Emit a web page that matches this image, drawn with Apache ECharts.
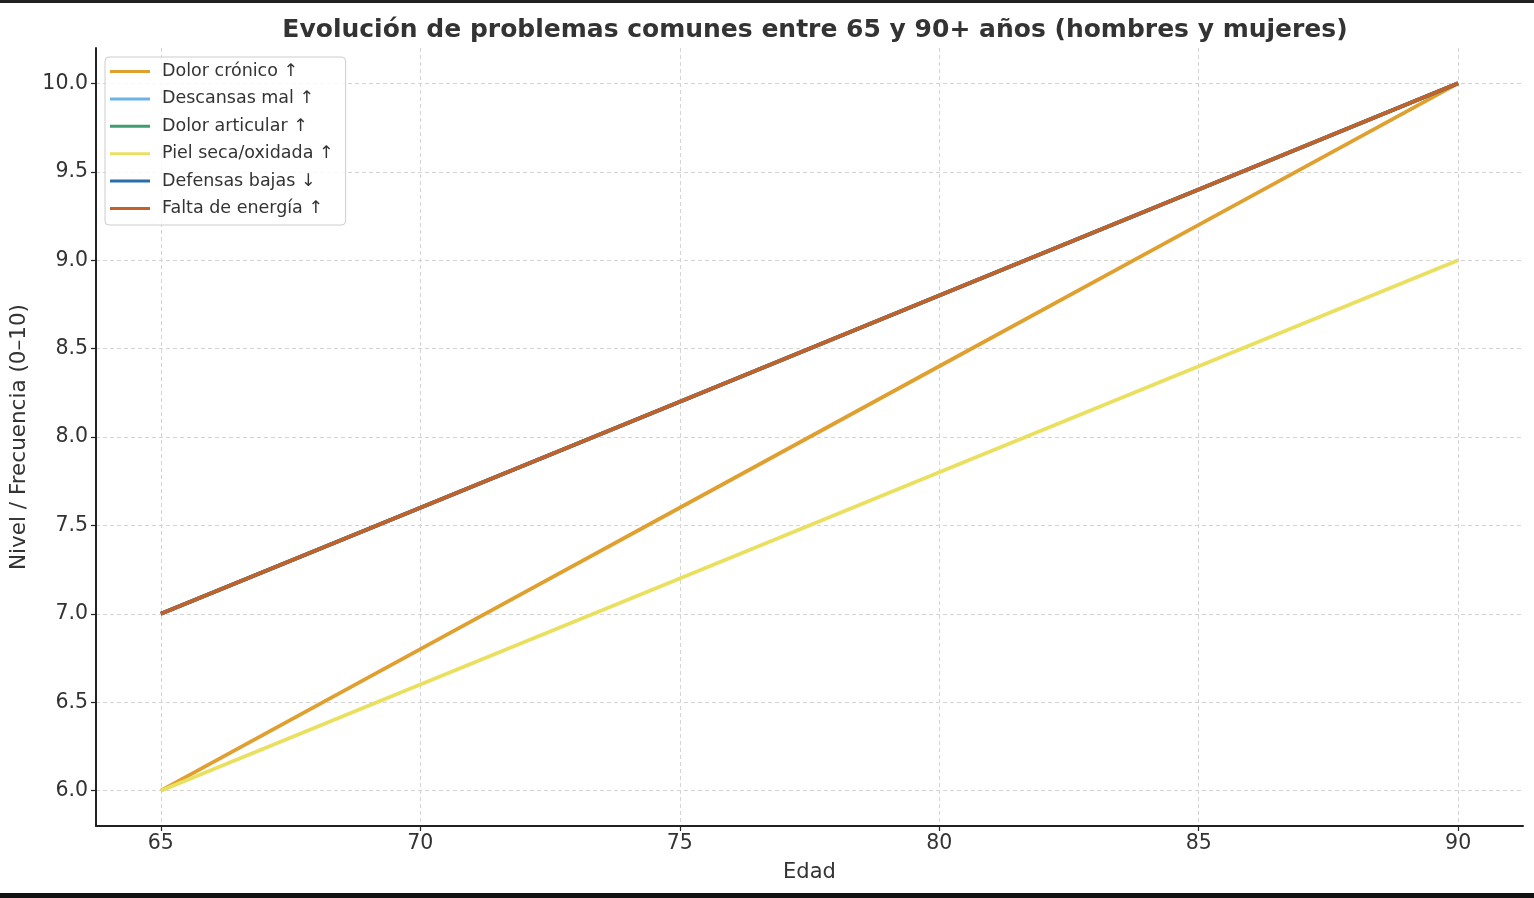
<!DOCTYPE html>
<html><head><meta charset="utf-8">
<script src="https://cdn.jsdelivr.net/npm/echarts@6/dist/echarts.min.js"></script>
<style>html,body{margin:0;padding:0;background:#fff}#c{width:1534px;height:898px}</style>
</head><body><div id="c"></div>
<script>
const ages = [65, 70, 75, 80, 85, 90];
const xTicks = [65, 70, 75, 80, 85, 90];
const yTicks = [6.0, 6.5, 7.0, 7.5, 8.0, 8.5, 9.0, 9.5, 10.0];
const seriesNames = ['Dolor crónico ↑', 'Descansas mal ↑', 'Dolor articular ↑', 'Piel seca/oxidada ↑', 'Defensas bajas ↓', 'Falta de energía ↑'];
const dolorCronico   = [6.0, 6.8, 7.6, 8.4, 9.2, 10.0];
const descansasMal   = [7.0, 7.6, 8.2, 8.8, 9.4, 10.0];
const dolorArticular = [7.0, 7.6, 8.2, 8.8, 9.4, 10.0];
const pielSeca       = [6.0, 6.6, 7.2, 7.8, 8.4, 9.0];
const defensasBajas  = [7.0, 7.6, 8.2, 8.8, 9.4, 10.0];
const faltaEnergia   = [7.0, 7.6, 8.2, 8.8, 9.4, 10.0];
const colors = ['#E0A030', '#6CB4E8', '#3E9E6E', '#EAE060', '#2B6CAB', '#C2622B'];
const values = [dolorCronico, descansasMal, dolorArticular, pielSeca, defensasBajas, faltaEnergia];

const font = 'DejaVu Sans';
const chart = echarts.init(document.getElementById('c'), null, {renderer: 'canvas'});
chart.setOption({
  animation: false,
  backgroundColor: '#fff',
  title: {
    text: 'Evolución de problemas comunes entre 65 y 90+ años (hombres y mujeres)',
    left: 810, top: 13, textAlign: 'center',
    textStyle: {fontFamily: font, fontWeight: 'bold', fontSize: 25, color: '#333'}
  },
  legend: {
    orient: 'vertical', left: 105, top: 57,
    padding: [5, 12, 7, 5],
    itemGap: 8.4, itemWidth: 40, itemHeight: 3,
    icon: 'rect',
    backgroundColor: 'rgba(255,255,255,0.8)',
    borderColor: '#cccccc', borderWidth: 1, borderRadius: 4,
    textStyle: {fontFamily: font, fontSize: 17.5, color: '#333', lineHeight: 19, padding: [0, 0, 0, 7]},
    data: seriesNames
  },
  grid: {left: 96, right: 11, top: 48, bottom: 72, containLabel: false},
  xAxis: {
    type: 'value', min: 63.75, max: 91.25,
    name: 'Edad', nameLocation: 'middle', nameGap: 36,
    nameTextStyle: {fontFamily: font, fontSize: 21, color: '#333'},
    axisLine: {onZero: false, lineStyle: {color: '#222', width: 2}},
    axisTick: {show: true, length: 5, customValues: xTicks, lineStyle: {color: '#222', width: 1.2}},
    axisLabel: {customValues: xTicks, fontFamily: font, fontSize: 20.5, color: '#333', margin: 7},
    splitLine: {show: true, lineStyle: {color: '#d4d4d4', type: [4, 3], width: 1}}
  },
  yAxis: {
    type: 'value', min: 5.8, max: 10.2,
    name: 'Nivel / Frecuencia (0–10)', nameLocation: 'middle', nameGap: 66, nameRotate: 90,
    nameTextStyle: {fontFamily: font, fontSize: 21.5, color: '#333'},
    axisLine: {show: true, onZero: false, lineStyle: {color: '#222', width: 2}},
    axisTick: {show: true, length: 5, customValues: yTicks, lineStyle: {color: '#222', width: 1.2}},
    axisLabel: {customValues: yTicks, fontFamily: font, fontSize: 20.5, color: '#333', margin: 8,
      formatter: v => v.toFixed(1)},
    splitLine: {show: true, lineStyle: {color: '#d4d4d4', type: [4, 3], width: 1}}
  },
  series: seriesNames.map((n, i) => ({
    name: n, type: 'line', symbol: 'none', smooth: false,
    data: ages.map((a, j) => [a, values[i][j]]),
    lineStyle: {color: colors[i], width: 3.8},
    itemStyle: {color: colors[i]},
    z: 2 + i
  })),
  graphic: [
    {type: 'rect', left: 0, top: 0, shape: {width: 1534, height: 3}, style: {fill: '#222'}, z: 100},
    {type: 'rect', left: 0, top: 893, shape: {width: 1534, height: 5}, style: {fill: '#111'}, z: 100}
  ]
});
</script></body></html>
